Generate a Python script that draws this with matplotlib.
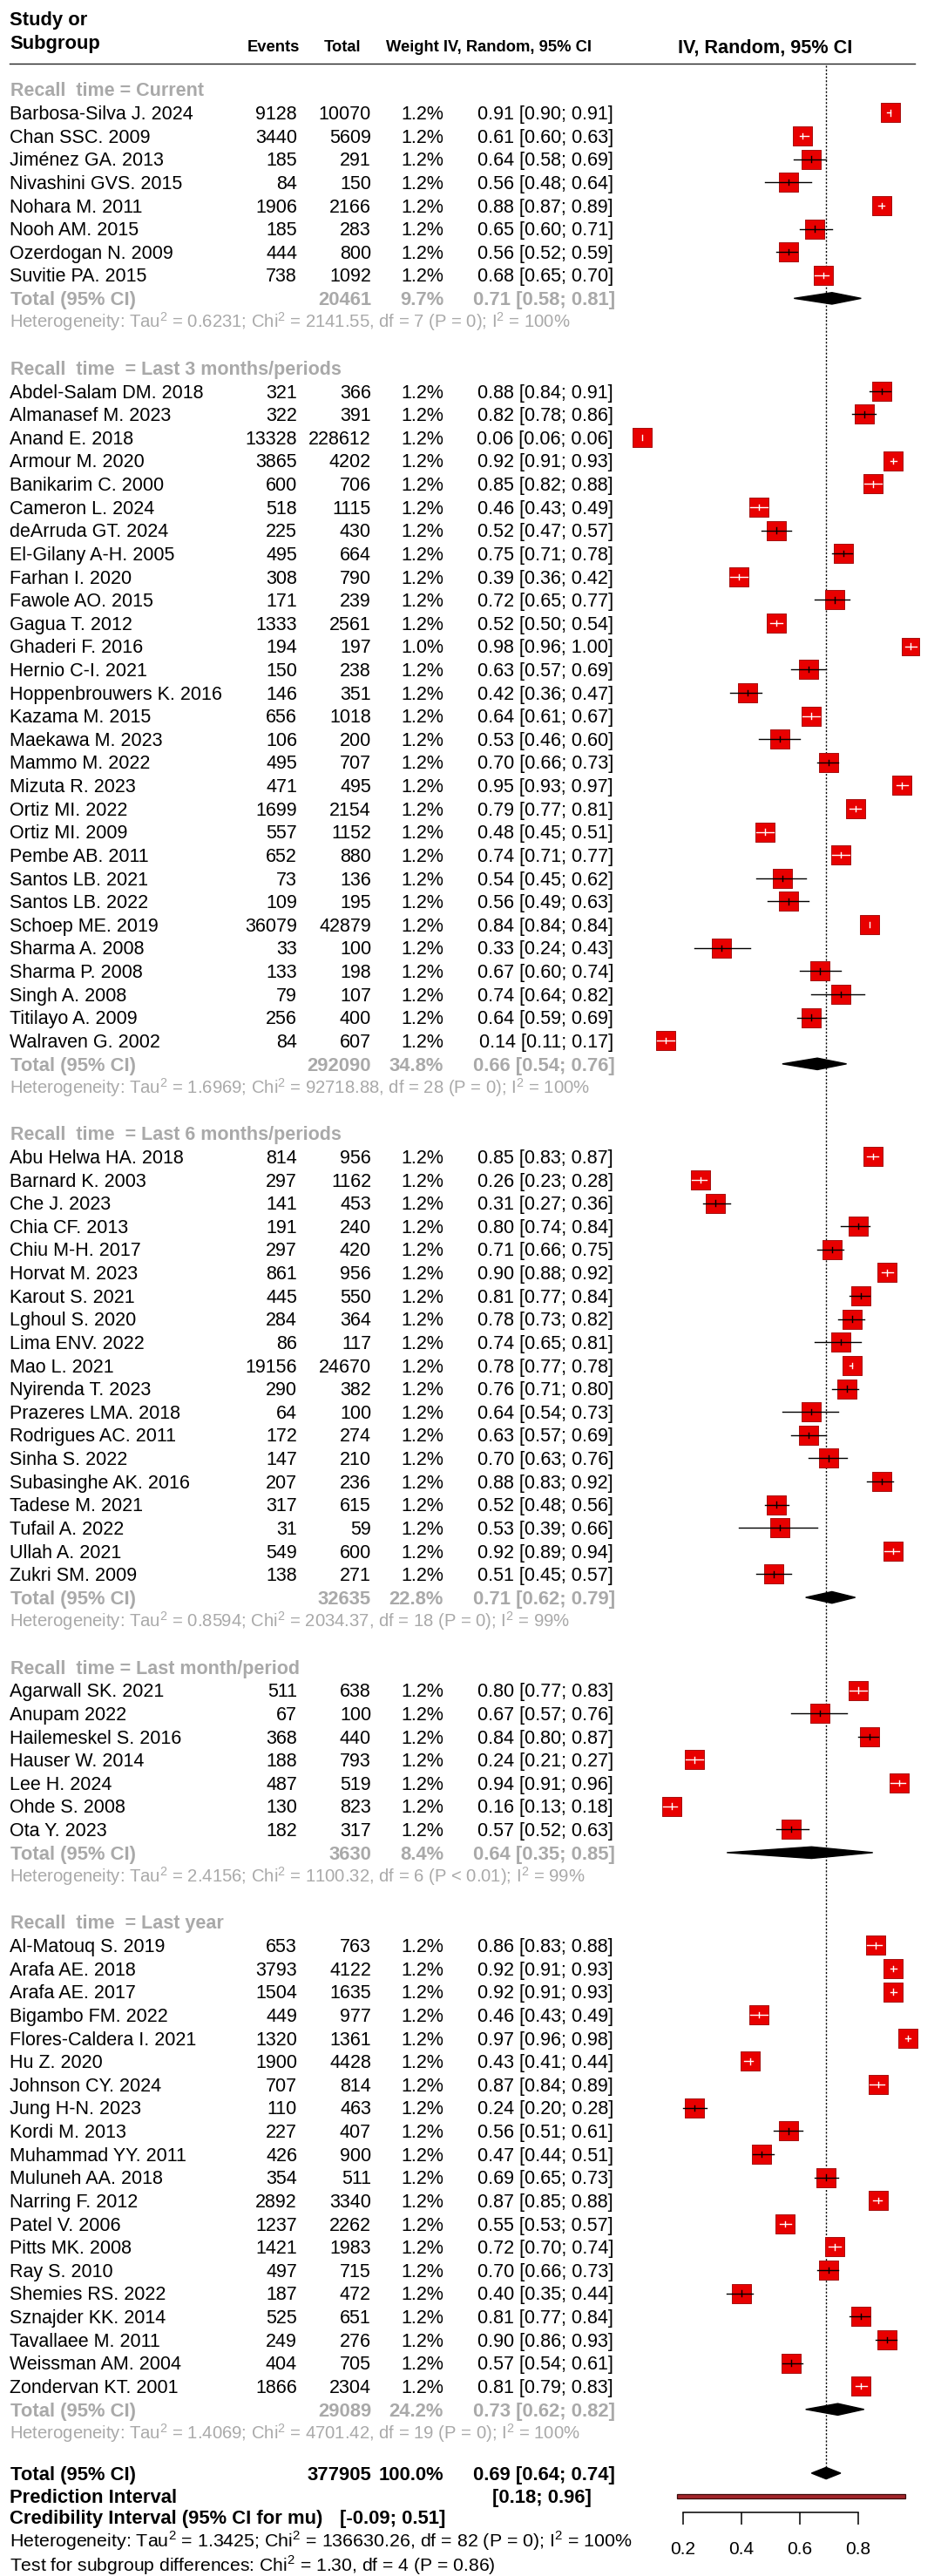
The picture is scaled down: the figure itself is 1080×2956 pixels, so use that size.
"""Forest plot of recall proportions by recall time (random effects, IV)."""
import matplotlib
matplotlib.use("Agg")
import matplotlib.pyplot as plt
from matplotlib.patches import Polygon, Rectangle

plt.rcParams["font.family"] = ["Liberation Sans", "DejaVu Sans"]
plt.rcParams["mathtext.fontset"] = "custom"
plt.rcParams["mathtext.rm"] = "Liberation Sans"
plt.rcParams["mathtext.bf"] = "Liberation Sans:bold"


# ---------- data ----------

CUR_LABEL = "Recall  time = Current"
CUR_STUDY = ["Barbosa-Silva J. 2024", "Chan SSC. 2009", "Jiménez GA. 2013",
             "Nivashini GVS. 2015", "Nohara M. 2011", "Nooh AM. 2015",
             "Ozerdogan N. 2009", "Suvitie PA. 2015"]
CUR_EVENTS = [9128, 3440, 185, 84, 1906, 185, 444, 738]
CUR_TOTAL = [10070, 5609, 291, 150, 2166, 283, 800, 1092]
CUR_WEIGHT = [1.2] * 8
CUR_EST = [0.91, 0.61, 0.64, 0.56, 0.88, 0.65, 0.56, 0.68]
CUR_LO = [0.90, 0.60, 0.58, 0.48, 0.87, 0.60, 0.52, 0.65]
CUR_HI = [0.91, 0.63, 0.69, 0.64, 0.89, 0.71, 0.59, 0.70]
CUR_SUM = (20461, 9.7, 0.71, 0.58, 0.81)
CUR_HET = "Heterogeneity: Tau$^2$ = 0.6231; Chi$^2$ = 2141.55, df = 7 (P = 0); I$^2$ = 100%"

M3_LABEL = "Recall  time  = Last 3 months/periods"
M3_STUDY = ["Abdel-Salam DM. 2018", "Almanasef M. 2023", "Anand E. 2018",
            "Armour M. 2020", "Banikarim C. 2000", "Cameron L. 2024",
            "deArruda GT. 2024", "El-Gilany A-H. 2005", "Farhan I. 2020",
            "Fawole AO. 2015", "Gagua T. 2012", "Ghaderi F. 2016",
            "Hernio C-I. 2021", "Hoppenbrouwers K. 2016", "Kazama M. 2015",
            "Maekawa M. 2023", "Mammo M. 2022", "Mizuta R. 2023",
            "Ortiz MI. 2022", "Ortiz MI. 2009", "Pembe AB. 2011",
            "Santos LB. 2021", "Santos LB. 2022", "Schoep ME. 2019",
            "Sharma A. 2008", "Sharma P. 2008", "Singh A. 2008",
            "Titilayo A. 2009", "Walraven G. 2002"]
M3_EVENTS = [321, 322, 13328, 3865, 600, 518, 225, 495, 308, 171, 1333, 194,
             150, 146, 656, 106, 495, 471, 1699, 557, 652, 73, 109, 36079,
             33, 133, 79, 256, 84]
M3_TOTAL = [366, 391, 228612, 4202, 706, 1115, 430, 664, 790, 239, 2561, 197,
            238, 351, 1018, 200, 707, 495, 2154, 1152, 880, 136, 195, 42879,
            100, 198, 107, 400, 607]
M3_WEIGHT = [1.2] * 11 + [1.0] + [1.2] * 17
M3_EST = [0.88, 0.82, 0.06, 0.92, 0.85, 0.46, 0.52, 0.75, 0.39, 0.72, 0.52,
          0.98, 0.63, 0.42, 0.64, 0.53, 0.70, 0.95, 0.79, 0.48, 0.74, 0.54,
          0.56, 0.84, 0.33, 0.67, 0.74, 0.64, 0.14]
M3_LO = [0.84, 0.78, 0.06, 0.91, 0.82, 0.43, 0.47, 0.71, 0.36, 0.65, 0.50,
         0.96, 0.57, 0.36, 0.61, 0.46, 0.66, 0.93, 0.77, 0.45, 0.71, 0.45,
         0.49, 0.84, 0.24, 0.60, 0.64, 0.59, 0.11]
M3_HI = [0.91, 0.86, 0.06, 0.93, 0.88, 0.49, 0.57, 0.78, 0.42, 0.77, 0.54,
         1.00, 0.69, 0.47, 0.67, 0.60, 0.73, 0.97, 0.81, 0.51, 0.77, 0.62,
         0.63, 0.84, 0.43, 0.74, 0.82, 0.69, 0.17]
M3_SUM = (292090, 34.8, 0.66, 0.54, 0.76)
M3_HET = "Heterogeneity: Tau$^2$ = 1.6969; Chi$^2$ = 92718.88, df = 28 (P = 0); I$^2$ = 100%"

M6_LABEL = "Recall  time  = Last 6 months/periods"
M6_STUDY = ["Abu Helwa HA. 2018", "Barnard K. 2003", "Che J. 2023",
            "Chia CF. 2013", "Chiu M-H. 2017", "Horvat M. 2023",
            "Karout S. 2021", "Lghoul S. 2020", "Lima ENV. 2022",
            "Mao L. 2021", "Nyirenda T. 2023", "Prazeres LMA. 2018",
            "Rodrigues AC. 2011", "Sinha S. 2022", "Subasinghe AK. 2016",
            "Tadese M. 2021", "Tufail A. 2022", "Ullah A. 2021",
            "Zukri SM. 2009"]
M6_EVENTS = [814, 297, 141, 191, 297, 861, 445, 284, 86, 19156, 290, 64, 172,
             147, 207, 317, 31, 549, 138]
M6_TOTAL = [956, 1162, 453, 240, 420, 956, 550, 364, 117, 24670, 382, 100,
            274, 210, 236, 615, 59, 600, 271]
M6_WEIGHT = [1.2] * 19
M6_EST = [0.85, 0.26, 0.31, 0.80, 0.71, 0.90, 0.81, 0.78, 0.74, 0.78, 0.76,
          0.64, 0.63, 0.70, 0.88, 0.52, 0.53, 0.92, 0.51]
M6_LO = [0.83, 0.23, 0.27, 0.74, 0.66, 0.88, 0.77, 0.73, 0.65, 0.77, 0.71,
         0.54, 0.57, 0.63, 0.83, 0.48, 0.39, 0.89, 0.45]
M6_HI = [0.87, 0.28, 0.36, 0.84, 0.75, 0.92, 0.84, 0.82, 0.81, 0.78, 0.80,
         0.73, 0.69, 0.76, 0.92, 0.56, 0.66, 0.94, 0.57]
M6_SUM = (32635, 22.8, 0.71, 0.62, 0.79)
M6_HET = "Heterogeneity: Tau$^2$ = 0.8594; Chi$^2$ = 2034.37, df = 18 (P = 0); I$^2$ = 99%"

M1_LABEL = "Recall  time = Last month/period"
M1_STUDY = ["Agarwall SK. 2021", "Anupam 2022", "Hailemeskel S. 2016",
            "Hauser W. 2014", "Lee H. 2024", "Ohde S. 2008", "Ota Y. 2023"]
M1_EVENTS = [511, 67, 368, 188, 487, 130, 182]
M1_TOTAL = [638, 100, 440, 793, 519, 823, 317]
M1_WEIGHT = [1.2] * 7
M1_EST = [0.80, 0.67, 0.84, 0.24, 0.94, 0.16, 0.57]
M1_LO = [0.77, 0.57, 0.80, 0.21, 0.91, 0.13, 0.52]
M1_HI = [0.83, 0.76, 0.87, 0.27, 0.96, 0.18, 0.63]
M1_SUM = (3630, 8.4, 0.64, 0.35, 0.85)
M1_HET = "Heterogeneity: Tau$^2$ = 2.4156; Chi$^2$ = 1100.32, df = 6 (P < 0.01); I$^2$ = 99%"

Y1_LABEL = "Recall  time  = Last year"
Y1_STUDY = ["Al-Matouq S. 2019", "Arafa AE. 2018", "Arafa AE. 2017",
            "Bigambo FM. 2022", "Flores-Caldera I. 2021", "Hu Z. 2020",
            "Johnson CY. 2024", "Jung H-N. 2023", "Kordi M. 2013",
            "Muhammad YY. 2011", "Muluneh AA. 2018", "Narring F. 2012",
            "Patel V. 2006", "Pitts MK. 2008", "Ray S. 2010",
            "Shemies RS. 2022", "Sznajder KK. 2014", "Tavallaee M. 2011",
            "Weissman AM. 2004", "Zondervan KT. 2001"]
Y1_EVENTS = [653, 3793, 1504, 449, 1320, 1900, 707, 110, 227, 426, 354, 2892,
             1237, 1421, 497, 187, 525, 249, 404, 1866]
Y1_TOTAL = [763, 4122, 1635, 977, 1361, 4428, 814, 463, 407, 900, 511, 3340,
            2262, 1983, 715, 472, 651, 276, 705, 2304]
Y1_WEIGHT = [1.2] * 20
Y1_EST = [0.86, 0.92, 0.92, 0.46, 0.97, 0.43, 0.87, 0.24, 0.56, 0.47, 0.69,
          0.87, 0.55, 0.72, 0.70, 0.40, 0.81, 0.90, 0.57, 0.81]
Y1_LO = [0.83, 0.91, 0.91, 0.43, 0.96, 0.41, 0.84, 0.20, 0.51, 0.44, 0.65,
         0.85, 0.53, 0.70, 0.66, 0.35, 0.77, 0.86, 0.54, 0.79]
Y1_HI = [0.88, 0.93, 0.93, 0.49, 0.98, 0.44, 0.89, 0.28, 0.61, 0.51, 0.73,
         0.88, 0.57, 0.74, 0.73, 0.44, 0.84, 0.93, 0.61, 0.83]
Y1_SUM = (29089, 24.2, 0.73, 0.62, 0.82)
Y1_HET = "Heterogeneity: Tau$^2$ = 1.4069; Chi$^2$ = 4701.42, df = 19 (P = 0); I$^2$ = 100%"

OVERALL = (377905, 100.0, 0.69, 0.64, 0.74)
PRED_INT = (0.18, 0.96)
CRED_INT = (-0.09, 0.51)
OVERALL_HET = "Heterogeneity: Tau$^2$ = 1.3425; Chi$^2$ = 136630.26, df = 82 (P = 0); I$^2$ = 100%"
SUBGROUP_TEST = "Test for subgroup differences: Chi$^2$ = 1.30, df = 4 (P = 0.86)"
XTICKS = [0.2, 0.4, 0.6, 0.8]

GROUPS = [
    (CUR_LABEL, CUR_STUDY, CUR_EVENTS, CUR_TOTAL, CUR_WEIGHT, CUR_EST, CUR_LO, CUR_HI, CUR_SUM, CUR_HET),
    (M3_LABEL, M3_STUDY, M3_EVENTS, M3_TOTAL, M3_WEIGHT, M3_EST, M3_LO, M3_HI, M3_SUM, M3_HET),
    (M6_LABEL, M6_STUDY, M6_EVENTS, M6_TOTAL, M6_WEIGHT, M6_EST, M6_LO, M6_HI, M6_SUM, M6_HET),
    (M1_LABEL, M1_STUDY, M1_EVENTS, M1_TOTAL, M1_WEIGHT, M1_EST, M1_LO, M1_HI, M1_SUM, M1_HET),
    (Y1_LABEL, Y1_STUDY, Y1_EVENTS, Y1_TOTAL, Y1_WEIGHT, Y1_EST, Y1_LO, Y1_HI, Y1_SUM, Y1_HET),
]

# ---------- layout ----------

W, H = 1080, 2956
Y0, DY = 129.4, 26.62          # pixel y of first study row, row spacing
AXIS_Y = 2883                  # pixel y of the x axis line
X_LO, X_HI = -2.140, 1.0836    # value at pixel 0 and pixel 1080

GRAY = "#a9a9a9"
RED = "#e80000"
RED_EDGE = "#a51010"
HALF_BOX = 11 / 335            # half box width in value units

COL_NAME, COL_EV, COL_TOT, COL_W, COL_CI = 11, 341, 426, 509, 704


def pix2row(p):
    return (p - Y0) / DY


fig = plt.figure(figsize=(W / 100, H / 100), dpi=100)
ax_t = fig.add_axes([0, 0, 1, 1])
ax_t.set_xlim(0, W)
ax_t.set_ylim(pix2row(H), pix2row(0))
ax_t.axis("off")

ax_f = fig.add_axes([0, (H - AXIS_Y) / H, 1, AXIS_Y / H])
ax_f.set_xlim(X_LO, X_HI)
ax_f.set_ylim(pix2row(AXIS_Y), pix2row(0))
ax_f.patch.set_visible(False)
for side in ("left", "right", "top"):
    ax_f.spines[side].set_visible(False)
ax_f.spines["bottom"].set_bounds(XTICKS[0], XTICKS[-1])
ax_f.spines["bottom"].set_linewidth(1.1)
ax_f.set_yticks([])
ax_f.set_xticks(XTICKS)
ax_f.set_xticklabels([f"{t:.1f}" for t in XTICKS])
ax_f.tick_params(axis="x", length=10, width=1.1, pad=14, labelsize=15)


def put(x, row, s, size=15.5, ha="left", color="black", weight="normal"):
    px = size / 0.72
    ax_t.text(x, row + 0.358 * px / DY, s, ha=ha, va="baseline",
              fontsize=size, color=color, fontweight=weight)


# header
put(COL_NAME, pix2row(29) - 0.358 * 22 / DY, "Study or", size=15.8, weight="bold")
put(COL_NAME, pix2row(56) - 0.358 * 22 / DY, "Subgroup", size=15.8, weight="bold")
hdr = pix2row(59) - 0.358 * 18.3 / DY
put(344, hdr, "Events", size=13.2, ha="right", weight="bold")
put(414, hdr, "Total", size=13.2, ha="right", weight="bold")
put(679, hdr, "Weight IV, Random, 95% CI", size=13.2, ha="right", weight="bold")
put(878, pix2row(53), "IV, Random, 95% CI", size=15.6, ha="center", weight="bold")
ax_t.plot([11, 1050], [pix2row(73)] * 2, color="#222222", lw=1.0)

# groups
row = -1
for label, study, ev, tot, wt, est, lo, hi, summ, het in GROUPS:
    put(12, row, label, size=15.5, color=GRAY, weight="bold")
    row += 1
    for i in range(len(study)):
        put(COL_NAME, row, study[i])
        put(COL_EV, row, f"{ev[i]}", ha="right")
        put(COL_TOT, row, f"{tot[i]}", ha="right")
        put(COL_W, row, f"{wt[i]:.1f}%", ha="right")
        put(COL_CI, row, f"{est[i]:.2f} [{lo[i]:.2f}; {hi[i]:.2f}]", ha="right")

        side = 22 * (wt[i] / 1.2) ** 0.5 * 0.72
        ax_f.scatter([est[i]], [row], marker="s", s=side ** 2, color=RED,
                     edgecolors=RED_EDGE, linewidths=0.7, zorder=3)
        inside = lo[i] >= est[i] - HALF_BOX and hi[i] <= est[i] + HALF_BOX
        lc = "white" if inside else "black"
        ax_f.plot([lo[i], hi[i]], [row, row], color=lc, lw=1.0, zorder=4)
        ax_f.plot([est[i], est[i]], [row - 0.12, row + 0.12], color=lc, lw=1.0, zorder=4)
        row += 1

    n, w, e, l, h = summ
    put(12, row, "Total (95% CI)", size=15.8, color=GRAY, weight="bold")
    put(COL_TOT, row, f"{n}", size=15.8, ha="right", color=GRAY, weight="bold")
    put(COL_W, row, f"{w:.1f}%", size=15.8, ha="right", color=GRAY, weight="bold")
    put(COL_CI + 2, row, f"{e:.2f} [{l:.2f}; {h:.2f}]", size=15.8, ha="right",
        color=GRAY, weight="bold")
    ax_f.add_patch(Polygon([(l, row), (e, row - 0.25), (h, row), (e, row + 0.25)],
                           closed=True, color="black", zorder=3))
    row += 1
    put(COL_NAME, row, het, size=14.6, color=GRAY)
    row += 2

# overall
tot_row = row - 0.25
n, w, e, l, h = OVERALL
put(12, tot_row, "Total (95% CI)", size=15.8, weight="bold")
put(COL_TOT, tot_row, f"{n}", size=15.8, ha="right", weight="bold")
put(COL_W, tot_row, f"{w:.1f}%", size=15.8, ha="right", weight="bold")
put(COL_CI + 2, tot_row, f"{e:.2f} [{l:.2f}; {h:.2f}]", size=15.8, ha="right", weight="bold")
ax_f.add_patch(Polygon([(l, tot_row), (e, tot_row - 0.25), (h, tot_row), (e, tot_row + 0.25)],
                       closed=True, color="black", zorder=3))

pred_row = tot_row + 1.0
put(COL_NAME, pred_row, "Prediction Interval", size=15.8, weight="bold")
put(679, pred_row, f"[{PRED_INT[0]:.2f}; {PRED_INT[1]:.2f}]", size=15.8, ha="right", weight="bold")
ax_f.add_patch(Rectangle((PRED_INT[0], pred_row - 0.08), PRED_INT[1] - PRED_INT[0], 0.16,
                         facecolor="#a3262b", edgecolor="#3d0b0b", lw=0.9, zorder=3))

cred_row = tot_row + 1.88
put(COL_NAME, cred_row, "Credibility Interval (95% CI for mu)", size=15.8, weight="bold")
put(511, cred_row, f"[{CRED_INT[0]:.2f}; {CRED_INT[1]:.2f}]", size=15.8, ha="right", weight="bold")

put(COL_NAME, tot_row + 2.89, OVERALL_HET, size=15.4)
put(COL_NAME, tot_row + 3.94, SUBGROUP_TEST, size=15.2)

# reference line at the pooled estimate
ax_f.plot([OVERALL[2], OVERALL[2]], [pix2row(75), tot_row], color="black",
          lw=1.0, linestyle=(0, (1.5, 1.5)), zorder=2)

fig.savefig("out.png", dpi=100)
plt.close(fig)
